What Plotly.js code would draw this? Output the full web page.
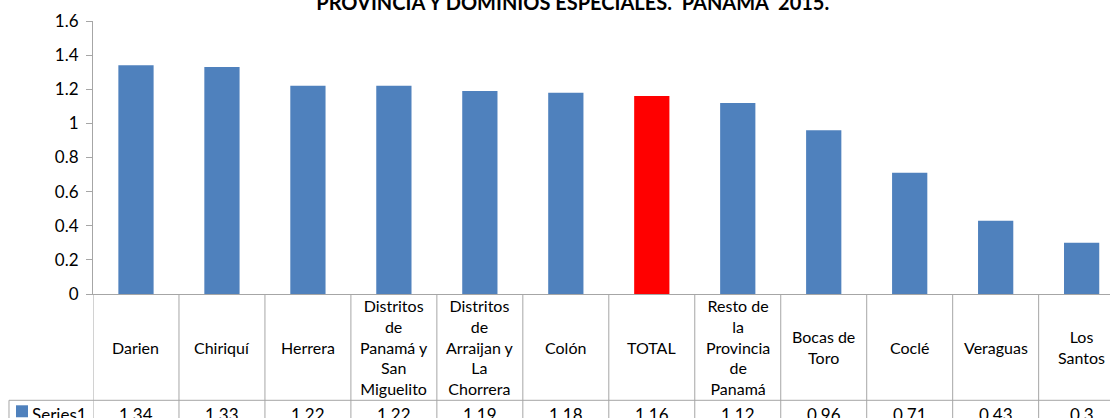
<!DOCTYPE html>
<html>
<head>
<meta charset="utf-8">
<script src="https://cdn.plot.ly/plotly-3.0.1.min.js"></script>
<style>html,body{margin:0;padding:0;background:#fff;overflow:hidden}#chart{width:1110px;height:418px}</style>
</head>
<body>
<div id="chart"></div>
<script>
var categories = ["Darien","Chiriquí","Herrera","Distritos de Panamá y San Miguelito","Distritos de Arraijan y La Chorrera","Colón","TOTAL","Resto de la Provincia de Panamá","Bocas de Toro","Coclé","Veraguas","Los Santos"];
var tickLabels = ["Darien","Chiriquí","Herrera","Distritos<br>de<br>Panamá y<br>San<br>Miguelito","Distritos<br>de<br>Arraijan y<br>La<br>Chorrera","Colón","TOTAL","Resto de<br>la<br>Provincia<br>de<br>Panamá","Bocas de<br>Toro","Coclé","Veraguas","Los<br>Santos"];
var values = [1.34,1.33,1.22,1.22,1.19,1.18,1.16,1.12,0.96,0.71,0.43,0.3];
var valueLabels = ["1.34","1.33","1.22","1.22","1.19","1.18","1.16","1.12","0.96","0.71","0.43","0.3"];
var seriesName = "Series1";
var titleText = "PROVINCIA Y DOMINIOS ESPECIALES.&nbsp; PANAMA&nbsp; 2015.";

var BLUE = "#4F81BD", RED = "#FF0000", GRID = "#A6A6A6";
var FONT = "Lato, 'Liberation Sans', sans-serif";
var CSIZE = 16, VSIZE = 17;
var idx = categories.map(function(_, i){ return i; });
var colors = categories.map(function(c){ return c === "TOTAL" ? RED : BLUE; });

var shapes = [];
var annotations = [];
var rowLineY = -0.3894, bottomY = -0.6, leftX = -0.0826;
for (var k = -1; k < categories.length; k++) {
  shapes.push({type:"line", xref:"x", yref:"paper", x0:k+0.5, x1:k+0.5, y0:0, y1:bottomY, line:{color:GRID, width:1}});
}
shapes.push({type:"line", xref:"paper", yref:"paper", x0:leftX, x1:1.05, y0:rowLineY, y1:rowLineY, line:{color:GRID, width:1}});
shapes.push({type:"line", xref:"paper", yref:"paper", x0:leftX, x1:leftX, y0:rowLineY, y1:bottomY, line:{color:GRID, width:1}});
shapes.push({type:"rect", xref:"paper", yref:"paper", x0:(16-93)/1017, x1:(28-93)/1017, y0:(294.5-418)/273.5, y1:(294.5-406)/273.5, fillcolor:BLUE, line:{width:0}});

idx.forEach(function(i){
  annotations.push({xref:"x", yref:"paper", x:i, y:-0.1956, text:tickLabels[i], showarrow:false, xanchor:"center", yanchor:"middle", align:"center", font:{family:FONT, size:CSIZE, color:"#000"}});
  annotations.push({xref:"x", yref:"paper", x:i, y:-0.44, text:valueLabels[i], showarrow:false, xanchor:"center", yanchor:"middle", font:{family:FONT, size:VSIZE, color:"#000"}});
});
annotations.push({xref:"paper", yref:"paper", x:(30-93)/1017, y:-0.44, text:seriesName, showarrow:false, xanchor:"left", yanchor:"middle", font:{family:FONT, size:VSIZE, color:"#000"}});

var data = [{
  type:"bar", x:idx, y:values, name:seriesName,
  marker:{color:colors, line:{width:0}}, width:0.41, hoverinfo:"x+y"
}];

var layout = {
  width:1110, height:418,
  margin:{l:93, r:0, t:21, b:123.5, pad:0},
  paper_bgcolor:"#fff", plot_bgcolor:"#fff",
  showlegend:false,
  title:{text:"<b>"+titleText+"</b>", x:0.516, xanchor:"center", y:0.9928, yanchor:"middle", yref:"container", font:{family:FONT, size:20, color:"#000"}},
  xaxis:{range:[-0.5, 11.33], showticklabels:false, ticks:"", showgrid:false, zeroline:false, showline:true, linecolor:GRID, linewidth:1, fixedrange:true},
  yaxis:{range:[0,1.6], dtick:0.2, ticks:"outside", ticklen:6, tickcolor:GRID, showgrid:false, zeroline:false, showline:true, linecolor:GRID, linewidth:1, tickfont:{family:FONT, size:17, color:"#000"}, ticklabelstandoff:4, fixedrange:true},
  shapes:shapes, annotations:annotations
};
Plotly.newPlot("chart", data, layout, {displayModeBar:false, staticPlot:true});
</script>
</body>
</html>
